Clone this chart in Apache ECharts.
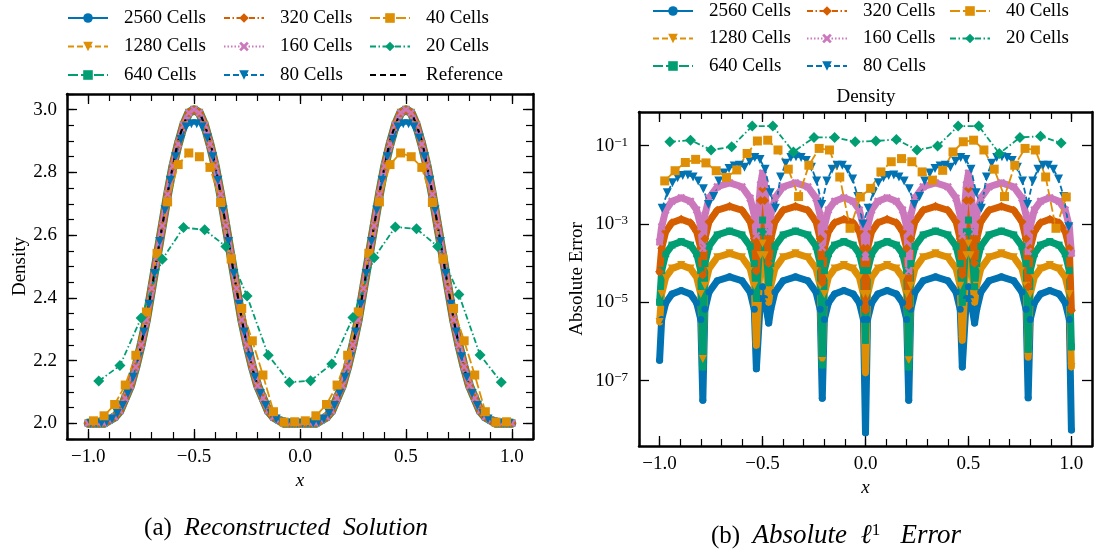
<!DOCTYPE html>
<html>
<head>
<meta charset="utf-8">
<title>Density reconstruction and absolute error</title>
<script src="https://cdn.jsdelivr.net/npm/echarts@6.0.0/dist/echarts.min.js"></script>
<style>
  html, body { margin: 0; padding: 0; background: #fff; }
  #chart { width: 1097px; height: 552px; }
</style>
</head>
<body>
<div id="chart"></div>
<script>
// ---- data ----

// reconstructed density, panel (a)
const xRef = [-1.00,-0.95,-0.90,-0.85,-0.80,-0.75,-0.70,-0.65,-0.60,-0.55,-0.50,-0.45,-0.40,-0.35,-0.30,-0.25,-0.20,-0.15,-0.10,-0.05,
  0.00,0.05,0.10,0.15,0.20,0.25,0.30,0.35,0.40,0.45,0.50,0.55,0.60,0.65,0.70,0.75,0.80,0.85,0.90,0.95,1.00];
const densRef = [2.00,2.00,2.01,2.04,2.12,2.25,2.43,2.63,2.82,2.95,3.00,2.95,2.82,2.63,2.43,2.25,2.12,2.04,2.01,2.00,
  2.00,2.00,2.01,2.04,2.12,2.25,2.43,2.63,2.82,2.95,3.00,2.95,2.82,2.63,2.43,2.25,2.12,2.04,2.01,2.00,2.00];

// fine meshes (2560 ... 160 cells) sit on the reference curve
const xFine = [-1.000,-0.975,-0.950,-0.925,-0.900,-0.875,-0.850,-0.825,-0.800,-0.775,
  -0.750,-0.725,-0.700,-0.675,-0.650,-0.625,-0.600,-0.575,-0.550,-0.525,
  -0.500,-0.475,-0.450,-0.425,-0.400,-0.375,-0.350,-0.325,-0.300,-0.275,
  -0.250,-0.225,-0.200,-0.175,-0.150,-0.125,-0.100,-0.075,-0.050,-0.025,
  0.000,0.025,0.050,0.075,0.100,0.125,0.150,0.175,0.200,0.225,
  0.250,0.275,0.300,0.325,0.350,0.375,0.400,0.425,0.450,0.475,
  0.500,0.525,0.550,0.575,0.600,0.625,0.650,0.675,0.700,0.725,
  0.750,0.775,0.800,0.825,0.850,0.875,0.900,0.925,0.950,0.975,1.000];
const densFine = [2.00,2.00,2.00,2.00,2.01,2.02,2.04,2.08,2.12,2.18,
  2.25,2.33,2.43,2.53,2.63,2.73,2.82,2.89,2.95,2.99,
  3.00,2.99,2.95,2.89,2.82,2.73,2.63,2.53,2.43,2.33,
  2.25,2.18,2.12,2.08,2.04,2.02,2.01,2.00,2.00,2.00,
  2.00,2.00,2.00,2.00,2.01,2.02,2.04,2.08,2.12,2.18,
  2.25,2.33,2.43,2.53,2.63,2.73,2.82,2.89,2.95,2.99,
  3.00,2.99,2.95,2.89,2.82,2.73,2.63,2.53,2.43,2.33,
  2.25,2.18,2.12,2.08,2.04,2.02,2.01,2.00,2.00,2.00,2.00];

const x80 = [-0.9875,-0.9625,-0.9375,-0.9125,-0.8875,-0.8625,-0.8375,-0.8125,-0.7875,-0.7625,
  -0.7375,-0.7125,-0.6875,-0.6625,-0.6375,-0.6125,-0.5875,-0.5625,-0.5375,-0.5125,
  -0.4875,-0.4625,-0.4375,-0.4125,-0.3875,-0.3625,-0.3375,-0.3125,-0.2875,-0.2625,
  -0.2375,-0.2125,-0.1875,-0.1625,-0.1375,-0.1125,-0.0875,-0.0625,-0.0375,-0.0125,
  0.0125,0.0375,0.0625,0.0875,0.1125,0.1375,0.1625,0.1875,0.2125,0.2375,
  0.2625,0.2875,0.3125,0.3375,0.3625,0.3875,0.4125,0.4375,0.4625,0.4875,
  0.5125,0.5375,0.5625,0.5875,0.6125,0.6375,0.6625,0.6875,0.7125,0.7375,
  0.7625,0.7875,0.8125,0.8375,0.8625,0.8875,0.9125,0.9375,0.9625,0.9875];
const dens80 = [2.000,2.000,2.001,2.005,2.014,2.031,2.057,2.095,2.147,2.212,
  2.291,2.380,2.478,2.580,2.680,2.775,2.850,2.905,2.945,2.955,
  2.955,2.945,2.910,2.850,2.775,2.680,2.580,2.478,2.380,2.291,
  2.212,2.147,2.095,2.057,2.031,2.014,2.005,2.001,2.000,2.000,
  2.000,2.000,2.001,2.005,2.014,2.031,2.057,2.095,2.147,2.212,
  2.291,2.380,2.478,2.580,2.680,2.775,2.850,2.905,2.945,2.955,
  2.955,2.945,2.910,2.850,2.775,2.680,2.580,2.478,2.380,2.291,
  2.212,2.147,2.095,2.057,2.031,2.014,2.005,2.001,2.000,2.000];

const x40 = [-0.975,-0.925,-0.875,-0.825,-0.775,-0.725,-0.675,-0.625,-0.575,-0.525,
  -0.475,-0.425,-0.375,-0.325,-0.275,-0.225,-0.175,-0.125,-0.075,-0.025,
  0.025,0.075,0.125,0.175,0.225,0.275,0.325,0.375,0.425,0.475,
  0.525,0.575,0.625,0.675,0.725,0.775,0.825,0.875,0.925,0.975];
const dens40 = [2.008,2.024,2.060,2.122,2.217,2.355,2.542,2.706,2.825,2.862,
  2.850,2.816,2.704,2.524,2.366,2.263,2.154,2.037,2.004,2.005,
  2.008,2.024,2.060,2.122,2.217,2.355,2.542,2.706,2.825,2.862,
  2.850,2.816,2.704,2.524,2.366,2.263,2.154,2.037,2.004,2.005];

const x20 = [-0.95,-0.85,-0.75,-0.65,-0.55,-0.45,-0.35,-0.25,-0.15,-0.05,
  0.05,0.15,0.25,0.35,0.45,0.55,0.65,0.75,0.85,0.95];
const dens20 = [2.135,2.184,2.336,2.523,2.624,2.617,2.564,2.406,2.217,2.131,
  2.136,2.189,2.337,2.528,2.626,2.620,2.564,2.411,2.218,2.131];

// absolute error, panel (b): log10 of the error as read on the log axis
const xErr = [-1.00,-0.99,-0.97,-0.94,-0.895,-0.85,-0.82,-0.80,
  -0.79,-0.78,-0.76,-0.72,-0.66,-0.60,-0.56,-0.54,
  -0.53,-0.51,-0.50,-0.49,
  -0.47,-0.46,-0.44,-0.40,-0.34,-0.28,-0.24,-0.22,
  -0.21,-0.20,-0.18,-0.15,-0.105,-0.06,-0.03,-0.01,
  0.00,0.01,0.03,0.06,0.105,0.15,0.18,0.20,
  0.21,0.22,0.24,0.28,0.34,0.40,0.44,0.46,
  0.47,0.49,0.50,0.51,
  0.53,0.54,0.56,0.60,0.66,0.72,0.76,0.78,
  0.79,0.80,0.82,0.85,0.895,0.94,0.97,0.99,
  1.00];
const err2560Exp = [-6.48,-5.44,-5.01,-4.79,-4.70,-4.79,-5.01,-5.44,
  -7.50,-5.18,-4.74,-4.45,-4.35,-4.45,-4.74,-5.18,
  -6.70,-4.90,-4.60,-4.90,
  -5.53,-5.18,-4.74,-4.45,-4.35,-4.45,-4.74,-5.18,
  -7.45,-5.44,-5.01,-4.79,-4.70,-4.79,-5.01,-5.44,
  -8.33,-5.44,-5.01,-4.79,-4.70,-4.79,-5.01,-5.44,
  -7.50,-5.18,-4.74,-4.45,-4.35,-4.45,-4.74,-5.18,
  -6.65,-4.90,-4.60,-4.90,
  -5.53,-5.18,-4.74,-4.45,-4.35,-4.45,-4.74,-5.18,
  -7.44,-5.44,-5.01,-4.79,-4.70,-4.79,-5.01,-5.44,
  -8.26];
const err1280Exp = [-5.50,-4.79,-4.36,-4.14,-4.05,-4.14,-4.36,-4.79,
  -6.45,-4.58,-4.14,-3.85,-3.75,-3.85,-4.14,-4.58,
  -6.10,-3.80,-3.50,-3.80,
  -5.00,-4.58,-4.14,-3.85,-3.75,-3.85,-4.14,-4.58,
  -6.50,-4.79,-4.36,-4.14,-4.05,-4.14,-4.36,-4.79,
  -6.80,-4.79,-4.36,-4.14,-4.05,-4.14,-4.36,-4.79,
  -6.48,-4.58,-4.14,-3.85,-3.75,-3.85,-4.14,-4.58,
  -5.97,-3.80,-3.50,-3.80,
  -5.00,-4.58,-4.14,-3.85,-3.75,-3.85,-4.14,-4.58,
  -6.40,-4.79,-4.36,-4.14,-4.05,-4.14,-4.36,-4.79,
  -6.65];
const err640Exp = [-5.00,-4.19,-3.76,-3.54,-3.45,-3.54,-3.76,-4.19,
  -6.65,-4.01,-3.57,-3.28,-3.18,-3.28,-3.57,-4.01,
  -4.90,-3.20,-2.90,-3.20,
  -4.50,-4.01,-3.57,-3.28,-3.18,-3.28,-3.57,-4.01,
  -6.60,-4.19,-3.76,-3.54,-3.45,-3.54,-3.76,-4.19,
  -5.97,-4.19,-3.76,-3.54,-3.45,-3.54,-3.76,-4.19,
  -6.65,-4.01,-3.57,-3.28,-3.18,-3.28,-3.57,-4.01,
  -5.00,-3.20,-2.90,-3.20,
  -4.60,-4.01,-3.57,-3.28,-3.18,-3.28,-3.57,-4.01,
  -6.20,-4.19,-3.76,-3.54,-3.45,-3.54,-3.76,-4.19,
  -6.14];
const err320Exp = [-4.22,-3.62,-3.19,-2.97,-2.88,-2.97,-3.19,-3.62,
  -4.30,-3.38,-2.94,-2.65,-2.55,-2.65,-2.94,-3.38,
  -4.20,-2.40,-2.10,-2.40,
  -4.00,-3.38,-2.94,-2.65,-2.55,-2.65,-2.94,-3.38,
  -4.50,-3.62,-3.19,-2.97,-2.88,-2.97,-3.19,-3.62,
  -5.20,-3.62,-3.19,-2.97,-2.88,-2.97,-3.19,-3.62,
  -5.10,-3.38,-2.94,-2.65,-2.55,-2.65,-2.94,-3.38,
  -4.30,-2.40,-2.10,-2.40,
  -4.00,-3.38,-2.94,-2.65,-2.55,-2.65,-2.94,-3.38,
  -4.60,-3.62,-3.19,-2.97,-2.88,-2.97,-3.19,-3.62,
  -5.20];
const err160Exp = [-3.46,-3.07,-2.64,-2.42,-2.33,-2.42,-2.64,-3.07,
  -3.62,-2.78,-2.34,-2.05,-1.95,-2.05,-2.34,-2.78,
  -3.30,-2.00,-1.70,-2.00,
  -3.20,-2.78,-2.34,-2.05,-1.95,-2.05,-2.34,-2.78,
  -3.60,-3.07,-2.64,-2.42,-2.33,-2.42,-2.64,-3.07,
  -3.85,-3.07,-2.64,-2.42,-2.33,-2.42,-2.64,-3.07,
  -4.20,-2.78,-2.34,-2.05,-1.95,-2.05,-2.34,-2.78,
  -3.30,-2.00,-1.70,-2.00,
  -3.20,-2.78,-2.34,-2.05,-1.95,-2.05,-2.34,-2.78,
  -3.70,-3.07,-2.64,-2.42,-2.33,-2.42,-2.64,-3.07,
  -3.75];
const err80Exp = [-2.60,-2.20,-1.95,-1.82,-1.76,-1.75,-1.80,-1.90,-2.10,-2.50,
  -2.30,-1.90,-1.70,-1.58,-1.52,-1.50,-1.55,-1.40,-1.30,-1.35,
  -1.60,-2.20,-2.60,-1.80,-1.45,-1.30,-1.28,-1.30,-1.38,-1.55,
  -1.90,-2.50,-1.90,-1.60,-1.50,-1.50,-1.60,-1.85,-2.30,-3.00,
  -2.60,-2.20,-1.95,-1.82,-1.76,-1.75,-1.80,-1.90,-2.10,-2.50,
  -2.30,-1.90,-1.70,-1.58,-1.52,-1.50,-1.55,-1.40,-1.30,-1.35,
  -1.60,-2.20,-2.60,-1.80,-1.45,-1.30,-1.28,-1.30,-1.38,-1.55,
  -1.90,-2.50,-1.90,-1.60,-1.50,-1.50,-1.60,-1.85,-2.30,-3.07];
const err40Exp = [-1.90,-1.64,-1.43,-1.35,-1.44,-1.64,-1.81,-1.62,-1.20,-0.88,
  -0.86,-1.11,-1.60,-2.30,-1.50,-1.07,-1.11,-1.80,-3.11,-2.31,
  -2.09,-1.67,-1.41,-1.33,-1.41,-1.67,-1.88,-1.63,-1.16,-0.90,
  -0.86,-1.11,-1.60,-2.30,-1.50,-1.07,-1.11,-1.80,-3.11,-2.31];
const err20Exp = [-0.90,-0.86,-1.11,-1.03,-0.50,-0.50,-1.16,-0.79,-0.79,-0.90,
  -0.88,-0.84,-1.11,-1.01,-0.50,-0.50,-1.20,-0.79,-0.76,-0.93];

const xMajorTicks = [-1, -0.5, 0, 0.5, 1];
const yMajorTicks = [2.0, 2.2, 2.4, 2.6, 2.8, 3.0];
const errMajorTicks = [1e-7, 1e-5, 1e-3, 1e-1];

// ---- styling ----
const FONT = "'Liberation Serif', 'DejaVu Serif', serif";
const BLUE = '#0173B2', ORANGE = '#DE8F05', GREEN = '#029E73', RED = '#D55E00', PINK = '#CC78BC';
const X_MARK = 'path://M2,0 L5,3 L8,0 L10,2 L7,5 L10,8 L8,10 L5,7 L2,10 L0,8 L3,5 L0,2 Z';
const DASH = [6, 3], LONG_DASH = [10, 3], DASH_DOT = [6, 2.5, 1.5, 2.5], DOT = [1.5, 2];

const cellStyle = {
  '2560 Cells': { color: BLUE,   symbol: 'circle',   rotate: 0,   dash: 'solid',   size: 7 },
  '1280 Cells': { color: ORANGE, symbol: 'triangle', rotate: 180, dash: DASH,      size: 8 },
  '640 Cells':  { color: GREEN,  symbol: 'rect',     rotate: 0,   dash: LONG_DASH, size: 7 },
  '320 Cells':  { color: RED,    symbol: 'diamond',  rotate: 0,   dash: DASH_DOT,  size: 9 },
  '160 Cells':  { color: PINK,   symbol: X_MARK,     rotate: 0,   dash: DOT,       size: 8 },
  '80 Cells':   { color: BLUE,   symbol: 'triangle', rotate: 180, dash: DASH,      size: 9 },
  '40 Cells':   { color: ORANGE, symbol: 'rect',     rotate: 0,   dash: LONG_DASH, size: 9 },
  '20 Cells':   { color: GREEN,  symbol: 'diamond',  rotate: 0,   dash: DASH_DOT,  size: 11 }
};

function pairs(xs, ys) { return xs.map((x, i) => [x, ys[i]]); }
function fromExp(es) { return es.map(e => Math.pow(10, e)); }

// panel 0 = (a) on axes 0/0, panel 1 = (b) on axes 2/2
function marks(name, data, panel) {
  const s = cellStyle[name];
  return {
    type: 'line', name, data,
    xAxisIndex: panel ? 2 : 0, yAxisIndex: panel ? 2 : 0,
    symbol: s.symbol, symbolRotate: s.rotate, symbolSize: s.size, showSymbol: true,
    lineStyle: { color: s.color, width: 1.8, type: s.dash },
    itemStyle: { color: s.color },
    silent: true, animation: false
  };
}
// thick solid stroke that stands in for the dense run of markers
function band(name, data, panel, width) {
  const s = cellStyle[name];
  return {
    type: 'line', name: name + ' band', data,
    xAxisIndex: panel ? 2 : 0, yAxisIndex: panel ? 2 : 0,
    symbol: 'none',
    lineStyle: { color: s.color, width, type: 'solid', cap: 'round', join: 'round' },
    silent: true, animation: false
  };
}

const fmtX = v => (v < 0 ? '\u2212' : '') + Math.abs(v).toFixed(1);
const SPINE = { show: true, onZero: false, lineStyle: { color: '#000', width: 2.5 } };
const NO_SPINE = { show: false, onZero: false };
const LABEL = { color: '#000', fontFamily: FONT, fontSize: 19 };
const MAJOR_TICK = { show: true, inside: true, length: 10, lineStyle: { color: '#000', width: 1.3 } };
const MINOR_TICK = { show: true, inside: true, length: 7, lineStyle: { color: '#000', width: 1.2 } };

// offset 0 everywhere: v6 pushes a second axis on the same side outward otherwise
function xMajor(grid, pos, labels, name, gap) {
  const ax = {
    type: 'value', gridIndex: grid, position: pos, offset: 0, min: -1.1, max: 1.1,
    axisLine: SPINE,
    axisTick: Object.assign({ customValues: xMajorTicks }, MAJOR_TICK),
    axisLabel: labels ? Object.assign({ show: true, customValues: xMajorTicks, formatter: fmtX, margin: 9 }, LABEL) : { show: false },
    splitLine: { show: false }
  };
  if (name) {
    ax.name = name; ax.nameLocation = 'middle'; ax.nameGap = gap;
    ax.nameTextStyle = { color: '#000', fontFamily: FONT, fontSize: 19, fontStyle: 'italic' };
  }
  return ax;
}
// second, spine-less axis on the same side that only carries the minor ticks
function xMinor(grid, pos) {
  return {
    type: 'value', gridIndex: grid, position: pos, offset: 0, min: -1.1, max: 1.1, interval: 0.1,
    axisLine: NO_SPINE, axisTick: MINOR_TICK,
    axisLabel: { show: false }, splitLine: { show: false }
  };
}
function yDensity(pos, labels) {
  const ax = {
    type: 'value', gridIndex: 0, position: pos, offset: 0, min: 1.95, max: 3.05,
    axisLine: SPINE,
    axisTick: Object.assign({ customValues: yMajorTicks }, MAJOR_TICK),
    axisLabel: labels ? Object.assign({ show: true, customValues: yMajorTicks, formatter: v => v.toFixed(1), margin: 10 }, LABEL) : { show: false },
    splitLine: { show: false }
  };
  if (labels) {
    ax.name = 'Density'; ax.nameLocation = 'middle'; ax.nameGap = 37; ax.nameRotate = 90;
    ax.nameTextStyle = { color: '#000', fontFamily: FONT, fontSize: 19 };
  }
  return ax;
}
function yDensityMinor(pos) {
  return {
    type: 'value', gridIndex: 0, position: pos, offset: 0, min: 1.95, max: 3.05, interval: 0.05,
    axisLine: NO_SPINE, axisTick: MINOR_TICK,
    axisLabel: { show: false }, splitLine: { show: false }
  };
}
function yError(pos, labels) {
  const ax = {
    type: 'log', logBase: 10, gridIndex: 1, position: pos, offset: 0,
    min: Math.pow(10, -8.67), max: Math.pow(10, -0.14),
    axisLine: SPINE,
    axisTick: Object.assign({ customValues: errMajorTicks }, MAJOR_TICK),
    axisLabel: labels ? {
      show: true, customValues: errMajorTicks, margin: 11,
      formatter: v => '{b|10}{s|\u2212' + (-Math.round(Math.log10(v))) + '}',
      rich: {
        b: { color: '#000', fontFamily: FONT, fontSize: 19 },
        s: { color: '#000', fontFamily: FONT, fontSize: 13, verticalAlign: 'top', padding: [0, 0, 7, 0] }
      }
    } : { show: false },
    splitLine: { show: false }, minorTick: { show: false }
  };
  if (labels) {
    ax.name = 'Absolute Error'; ax.nameLocation = 'middle'; ax.nameGap = 52; ax.nameRotate = 90;
    ax.nameTextStyle = { color: '#000', fontFamily: FONT, fontSize: 19 };
  }
  return ax;
}

function legendColumn(left, top, names, gap) {
  return {
    orient: 'vertical', left, top, data: names,
    itemWidth: 40, itemHeight: 12, itemGap: gap, selectedMode: false,
    textStyle: { color: '#000', fontFamily: FONT, fontSize: 19, lineHeight: 20, padding: [0, 0, 0, 11] }
  };
}

// ---- series ----
const fineNames = ['2560 Cells', '1280 Cells', '640 Cells', '320 Cells', '160 Cells'];
const bandWidthA = { '2560 Cells': 7, '1280 Cells': 7, '640 Cells': 9, '320 Cells': 8, '160 Cells': 6 };
const errFine = {
  '2560 Cells': err2560Exp, '1280 Cells': err1280Exp, '640 Cells': err640Exp,
  '320 Cells': err320Exp, '160 Cells': err160Exp
};

const series = [];
fineNames.forEach(n => {
  const d = pairs(xFine, densFine);
  series.push(band(n, d, 0, bandWidthA[n]));
  series.push(marks(n, d, 0));
});
series.push(marks('80 Cells', pairs(x80, dens80), 0));
series.push(marks('40 Cells', pairs(x40, dens40), 0));
series.push(marks('20 Cells', pairs(x20, dens20), 0));
series.push({
  type: 'line', name: 'Reference', data: pairs(xRef, densRef), smooth: true,
  xAxisIndex: 0, yAxisIndex: 0, symbol: 'circle', showSymbol: false,
  lineStyle: { color: '#000', width: 2.2, type: [6, 4] },
  itemStyle: { color: 'rgba(0,0,0,0)' },
  silent: true, animation: false
});

fineNames.forEach(n => {
  const d = pairs(xErr, fromExp(errFine[n]));
  series.push(band(n, d, 1, 7));
  series.push(marks(n, d, 1));
});
series.push(marks('80 Cells', pairs(x80, fromExp(err80Exp)), 1));
series.push(marks('40 Cells', pairs(x40, fromExp(err40Exp)), 1));
series.push(marks('20 Cells', pairs(x20, fromExp(err20Exp)), 1));

const chart = echarts.init(document.getElementById('chart'), null, { renderer: 'canvas' });
chart.setOption({
  backgroundColor: '#fff',
  animation: false,
  grid: [
    { left: 67, top: 94, width: 466, height: 345 },
    { left: 639, top: 112, width: 453, height: 334 }
  ],
  xAxis: [
    xMajor(0, 'bottom', true, 'x', 29), xMajor(0, 'top', false),
    xMajor(1, 'bottom', true, 'x', 31), xMajor(1, 'top', false),
    xMinor(0, 'bottom'), xMinor(0, 'top'),
    xMinor(1, 'bottom'), xMinor(1, 'top')
  ],
  yAxis: [
    yDensity('left', true), yDensity('right', false),
    yError('left', true), yError('right', false),
    yDensityMinor('left'), yDensityMinor('right')
  ],
  legend: [
    legendColumn(62, 3, ['2560 Cells', '1280 Cells', '640 Cells'], 8.5),
    legendColumn(218, 3, ['320 Cells', '160 Cells', '80 Cells'], 8.5),
    legendColumn(364, 3, ['40 Cells', '20 Cells', 'Reference'], 8.5),
    legendColumn(647, -4, ['2560 Cells', '1280 Cells', '640 Cells'], 7.5),
    legendColumn(801, -4, ['320 Cells', '160 Cells', '80 Cells'], 7.5),
    legendColumn(944, -4, ['40 Cells', '20 Cells'], 7.5)
  ],
  graphic: [
    { type: 'text', x: 866, y: 97, silent: true,
      style: { text: 'Density', fill: '#000', font: '19px ' + FONT, align: 'center', verticalAlign: 'middle', textAlign: 'center', textVerticalAlign: 'middle' } },
    { type: 'text', x: 286, y: 528, silent: true,
      style: {
        text: '{n|(a)  }{i|Reconstructed  Solution}', align: 'center', verticalAlign: 'middle', textAlign: 'center', textVerticalAlign: 'middle',
        rich: {
          n: { fill: '#000', fontFamily: FONT, fontSize: 25 },
          i: { fill: '#000', fontFamily: FONT, fontSize: 25.5, fontStyle: 'italic' }
        }
      } },
    { type: 'text', x: 836, y: 536, silent: true,
      style: {
        text: '{n|(b)  }{i|Absolute  \u2113}{s|1}{i|   Error}', align: 'center', verticalAlign: 'middle', textAlign: 'center', textVerticalAlign: 'middle',
        rich: {
          n: { fill: '#000', fontFamily: FONT, fontSize: 25 },
          i: { fill: '#000', fontFamily: FONT, fontSize: 27, fontStyle: 'italic' },
          s: { fill: '#000', fontFamily: FONT, fontSize: 17, verticalAlign: 'top' }
        }
      } }
  ],
  series
});
</script>
</body>
</html>
